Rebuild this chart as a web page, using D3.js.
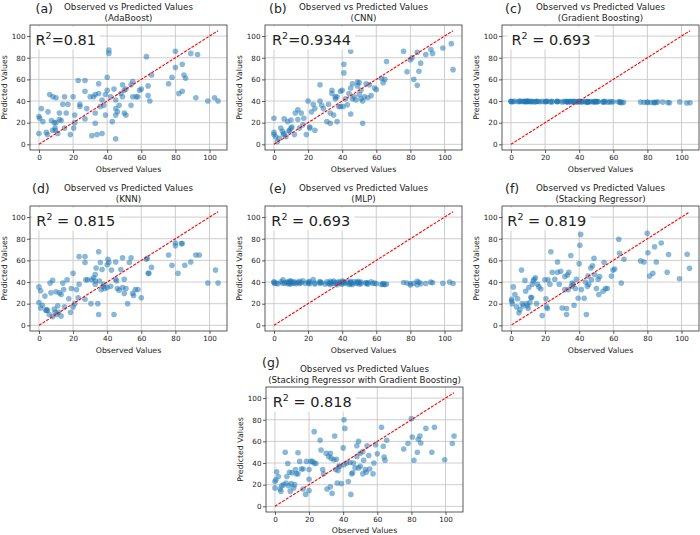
<!DOCTYPE html>
<html>
<head>
<meta charset="utf-8">
<script src="https://cdn.jsdelivr.net/npm/d3@7"></script>
<style>
body { margin: 0; background: #fff; }
text { font-family: "DejaVu Sans", sans-serif; fill: #222; }
</style>
</head>
<body>
<div id="viz-container"></div>
<script>

///////////////////////////////////////////////////////////////////////////
// DATA  [observed, predicted]

let adaBoostPts = [[0,25.7],[0.4,24],[0,10],[1.4,33],[2.3,21],[4.3,11],[5,9],[5.3,30],[6.3,46],[7.3,22],[8,13],[8.2,44],[9,20],[9.4,15],[9.6,13],[10,43],[10,20],[11,10],[12,29],[12,23],[13,22],[14,37],[15,44],[15,15],[16,29],[17,37],[18.4,9],[20,44],[20.4,15],[21,20],[21,27],[23,59],[24,37],[24,35],[27,59],[27,49],[27,23.5],[28,33],[30,44],[31,8],[32,44],[33,29],[33,19.5],[33,46],[34,9],[35,47],[35,56],[36,35],[37,41],[37,10],[38,36],[39,46],[39,27],[40,50],[40,62],[41,84],[41,87],[42,44],[43,21],[44,51],[45,5],[45,33],[45,27],[45,41],[46,30],[47,36],[48,47],[49,55],[49,44],[50,50],[50,29],[51,51],[51,27],[54,36],[54,55],[55,44],[55,58],[57,44],[58,44],[59,50],[60,51],[63,81],[64,54],[64,45],[65,40],[66,64],[76,56],[78,62],[80,86],[80,71],[82,47],[84,49],[84,74],[85,64],[86,61],[89,84],[92,43],[93,83],[99,40],[103,43],[105,40]];

let cnnPts = [[0,24],[0,11],[0,9],[1,7],[2,2.5],[3,5.5],[4,15],[5,12],[5.5,9],[6,10],[6,23.5],[7,7],[8,21],[9,13],[9,12],[10,22.5],[10,15],[10.5,16],[12,9],[12.5,29],[14,32],[14,23],[15,15],[16,29],[17,18],[17.5,24],[19,9],[20,40],[21,16],[21,15],[22,30],[23,37],[24,33],[24,13],[27,55],[27,40],[28,36],[29,33],[31,21],[32,37],[33,29],[33,19.5],[34,50],[34,47],[35,27],[36,44],[36,42],[37,44],[37,21],[38,35],[39,49],[39,35],[40,50],[40.5,35],[41,66],[41,74],[42,42],[43,36.5],[44,47],[45,86],[45,52],[45,28],[46,42],[46,56],[47,44],[48,41],[49,57.5],[49,54],[50,46],[50,57],[51,50],[51,42],[52,19.5],[52,40],[53,44],[54,56],[55,43],[56,55],[57,45],[59,52],[60,50.5],[63,61],[64,57],[65,60],[66,76.5],[76,86],[78,67],[80,78],[81,80],[82,60],[84,85],[84,54.5],[85,67.5],[86,75],[89,83],[92,87.5],[93,84],[99,89],[104,93],[105,69]];

// observed values used for the two nearly flat models
let sharedObs = [0,0.4,0,1.4,2.3,4.3,5,5.3,6.3,7.3,8,8.2,9,9.4,9.6,10,10,11,12,12,13,14,15,15,16,17,18.4,20,20.4,21,21,23,24,24,27,27,27,28,30,31,32,33,33,33,34,35,35,36,37,37,38,39,39,40,40,41,41,42,43,44,45,45,45,45,46,47,48,49,49,50,50,51,51,54,54,55,55,57,58,59,60,63,64,64,65,66,76,78,80,80,82,84,84,85,86,89,92,93,99,103,105];

let gbPred = [39.6,39.4,39.8,39.5,39.7,39.3,39.6,39.9,39.5,39.8,
  39.4,39.7,39.5,39.9,39.3,39.6,39.8,39.5,39.7,39.4,
  39.6,39.2,39.8,39.5,39.6,39.3,39.7,39.4,39.6,39.5,
  39.8,39.4,39.7,39.2,39.5,39.8,39.3,39.6,39.1,39.5,
  39.7,39.3,39.6,39.0,39.5,39.8,39.2,39.6,39.4,39.7,
  39.3,39.5,39.1,39.6,39.8,39.2,39.5,39.4,39.7,39.0,
  39.5,39.2,38.9,39.6,39.3,39.5,39.1,39.4,39.7,39.2,
  39.5,39.3,39.6,39.0,39.4,39.7,39.2,38.9,39.5,39.1,
  39.3,39.4,38.8,39.2,38.5,38.9,39.0,38.8,38.6,39.1,
  38.7,38.5,38.9,38.6,39.2,39.0,38.7,38.4,39.2,38.2,38.3];

let mlpPred = [39.5,38.6,40.2,39.1,38.4,40.5,39.0,42.0,38.8,39.6,
  40.3,38.5,39.2,40.8,38.1,39.7,41.0,38.9,39.4,40.1,
  38.3,39.8,40.6,38.7,39.3,41.2,38.6,40.0,39.1,38.4,
  40.4,42.2,39.0,38.2,39.7,40.5,38.8,39.3,37.9,40.1,
  38.6,39.4,40.7,37.6,38.9,39.8,40.9,38.3,39.5,37.5,
  40.2,38.7,39.6,40.8,38.1,39.3,40.4,38.6,39.9,37.8,
  39.1,40.5,38.4,39.7,37.7,40.1,38.9,39.4,40.6,38.2,
  39.8,38.5,40.0,38.8,39.5,37.9,39.2,40.3,38.6,39.0,
  38.4,37.8,38.5,38.0,37.6,38.2,39.6,39.1,38.3,37.2,
  38.9,40.7,37.4,39.8,38.5,38.7,39.9,39.3,38.8,40.0,38.6];

let knnPts = [[0,35.5],[1,32],[0,21],[1,16],[2,18.5],[3.5,27],[4,14],[4.5,14],[5,14],[6,10],[6.5,39],[7,30],[8,41.5],[8,8],[9,15],[9.5,12],[10,31],[10.5,10],[11,18],[11.5,12],[12,30],[13,8.5],[13,28.5],[14,39],[14.5,33],[15,17],[16.5,42],[17.5,24.5],[18.5,12],[19,34],[20,17],[20,48],[21,20],[22,33],[23,25.5],[23.5,38],[23.5,63.5],[27,58],[27,63.5],[27,24],[27.5,42],[28.5,42],[30.5,20],[31,42],[32,44],[33,38],[33,41],[33,47],[33.5,53],[34.5,20],[35,10],[35,68],[35.5,41],[36,58],[36.5,33],[37,51.5],[37.5,36],[38,38],[38.5,34],[40,56],[40,35],[40.5,61],[41,58],[42,36],[42.5,51],[44,10],[45,58.5],[45,42.5],[45.5,41],[46,34],[47,32.5],[48,51.5],[49,62.5],[49,35],[50,42.5],[50,29.5],[51,34],[52,20],[53,58],[54,62.5],[55,29.5],[55.5,27.5],[56.5,33],[58,33],[60,25.5],[63,61],[63.5,62],[64,48],[64.5,48],[66,53.5],[76,65],[78,55.5],[80,76],[80,73.5],[81.5,48],[83.5,75.5],[84,75.5],[85.5,55.5],[89,58.5],[92,65],[94,65],[99,39],[103.5,51],[105,39]];

let stackingPts = [[0.4,24],[0.4,22.5],[0.8,20],[1.4,35.5],[2.3,28.5],[3.3,17],[3.9,24.5],[4.7,11.5],[5.3,14.5],[6.2,51],[6.6,20],[7.2,18],[8.2,41.5],[8.6,31.5],[9.2,20],[9.7,18],[10.1,15.5],[10.5,35],[11.1,21],[11.7,26],[12.1,25.5],[12.5,38],[13.1,41],[13.6,42.5],[14.4,44],[15,20],[15.6,38],[16.4,35.5],[17.5,33.5],[18.3,9],[19.9,42],[20.5,24.5],[20.9,17],[21.4,15.5],[21.8,42],[22.8,38],[23.4,68],[24.2,49],[25.7,42.5],[27.3,58.5],[27.3,49],[28.3,38],[29.2,50],[30,16],[31.6,45],[31.6,33],[32.6,15.5],[32.6,10],[33.1,46.5],[33.5,33],[33.9,49],[35.1,64.5],[35.5,36],[35.9,39],[36.5,38],[37,18.5],[37.8,34],[38.4,42.5],[39.4,25],[40,57],[40.4,74],[40.9,84],[41.3,33],[42.9,25],[43.7,40],[44.2,10],[44.8,36],[45.2,45.5],[45.6,38],[46.8,53],[47.2,42],[47.8,55],[48.7,62],[49.1,47],[50.1,34],[51.1,42.5],[51.5,28.5],[52,45],[54,31.5],[54.6,58],[55.4,34],[56.5,34],[58.9,45.5],[59.8,51],[60.8,52],[63.2,79.5],[63.7,66.5],[64.7,39],[66.3,61],[76,59.5],[78,58.5],[79.9,85],[80.3,67],[81.3,45.5],[83.2,48],[84.2,72.5],[85.2,58.5],[88.1,76],[92.4,65.5],[91.6,49],[98.8,43],[103.3,65.6],[104.7,52.7]];

let stackingGbPts = [[0,23],[0,17],[0.5,24.5],[1,32],[2,27.5],[3,16],[3.5,14],[4,19],[5,20],[6,50],[6.5,21.5],[7,27.5],[7.5,39.5],[8,19],[8.5,31.5],[9,14],[9.5,21],[10,31],[11,17],[11.5,20],[12,34],[12.5,30],[13.5,49.5],[13.5,30],[14.5,41.5],[15.5,34.5],[16.5,34.5],[16.5,16],[18,11],[18.5,41.5],[20,34],[20,25],[20,14.5],[21,41.5],[22,41.5],[23,69],[23,40],[24,39.5],[26.5,61],[27,52],[28,34],[28.5,30],[30,49],[30.5,16],[31.5,46],[32.5,18],[32.5,49],[33,44.5],[33.5,12],[34.5,43],[35,65],[35.5,34],[36,43.5],[36.5,21.5],[37,33],[37.5,37],[38,37],[39,21],[40,54],[40.5,38.5],[40.5,80],[41,72],[42,40],[43,23],[44,40.5],[44.5,11],[45,30],[45.5,31],[46,40],[47,35.5],[48,56],[48,46],[49,60],[49,35.5],[50,49],[50,37],[51.5,30],[51.5,50.5],[52,42.5],[53,34],[53.5,31.5],[54,56],[55,47],[55.5,34.5],[57.5,30],[58,40],[59,57],[60,48.5],[62.5,73],[63.5,55.5],[64,45.5],[64.5,42.5],[65.5,61],[75.5,53],[78,58],[80,81],[80.5,64],[81.5,42.5],[83.5,50],[84,62],[85,65],[85.5,58.5],[88.5,72],[92,50],[93.5,73],[99.5,43],[104,58],[105,65]];

let axisTicks = [0, 20, 40, 60, 80, 100];

///////////////////////////////////////////////////////////////////////////
// SVG

let w = 700;
let h = 535;

let viz = d3.select("#viz-container")
  .append("svg")
    .attr("width", w)
    .attr("height", h)
    .style("background", "#fff");

let plotW = 197;
let plotH = 125;

function zip(obs, pred){
  return obs.map(function(o, i){ return [o, pred[i]]; });
}

let panels = [
  {tag: "(a)", model: "(AdaBoost)", r2: "=0.81", pts: adaBoostPts, left: 30, top: 25, tagDx: 5.5, tagDy: -17, r2Dx: 5.5, xlab: 19.5},
  {tag: "(b)", model: "(CNN)", r2: "=0.9344", pts: cnnPts, left: 265, top: 25, tagDx: 4, tagDy: -17, r2Dx: 7, xlab: 19.5},
  {tag: "(c)", model: "(Gradient Boosting)", r2: " = 0.693", pts: zip(sharedObs, gbPred), left: 502, top: 25, tagDx: 3, tagDy: -17, r2Dx: 9.5, xlab: 19.5},
  {tag: "(d)", model: "(KNN)", r2: " = 0.815", pts: knnPts, left: 30, top: 206, tagDx: 2, tagDy: -18, r2Dx: 6.3, xlab: 19.5},
  {tag: "(e)", model: "(MLP)", r2: " = 0.693", pts: zip(sharedObs, mlpPred), left: 265, top: 206, tagDx: 4, tagDy: -18, r2Dx: 6.3, xlab: 19.5},
  {tag: "(f)", model: "(Stacking Regressor)", r2: " = 0.819", pts: stackingPts, left: 502, top: 206, tagDx: 3, tagDy: -18, r2Dx: 5.3, xlab: 19.5},
  {tag: "(g)", model: "(Stacking Regressor with Gradient Boosting)", r2: " = 0.818", pts: stackingGbPts, left: 266, top: 387, tagDx: -4, tagDy: -25, r2Dx: 6.7, xlab: 18}
];

///////////////////////////////////////////////////////////////////////////
// one scatter panel

function drawPanel(p){
  let g = viz.append("g").attr("transform", "translate(" + p.left + "," + p.top + ")");

  let x = d3.scaleLinear().domain([-5.25, 110.25]).range([0, plotW]);
  let y = d3.scaleLinear().domain([-5.25, 110.25]).range([plotH, 0]);

  // grid
  g.selectAll(".vgrid").data(axisTicks).enter()
    .append("line")
      .attr("x1", d => x(d)).attr("x2", d => x(d))
      .attr("y1", 0).attr("y2", plotH)
      .attr("stroke", "#c8c8c8").attr("stroke-width", 0.9);
  g.selectAll(".hgrid").data(axisTicks).enter()
    .append("line")
      .attr("y1", d => y(d)).attr("y2", d => y(d))
      .attr("x1", 0).attr("x2", plotW)
      .attr("stroke", "#c8c8c8").attr("stroke-width", 0.9);

  // points
  g.selectAll("circle").data(p.pts).enter()
    .append("circle")
      .attr("cx", d => x(d[0]))
      .attr("cy", d => y(d[1]))
      .attr("r", 2.8)
      .attr("fill", "#1f77b4")
      .attr("fill-opacity", 0.52);

  // perfect prediction line
  let ext = d3.extent(p.pts, d => d[0]);
  g.append("line")
    .attr("x1", x(ext[0])).attr("y1", y(ext[0]))
    .attr("x2", x(ext[1])).attr("y2", y(ext[1]))
    .attr("stroke", "#ff0000")
    .attr("stroke-width", 1.1)
    .attr("stroke-dasharray", "3,1.3");

  // axes
  let xAxis = g.append("g").attr("transform", "translate(0," + plotH + ")")
    .call(d3.axisBottom(x).tickValues(axisTicks).tickSize(3).tickPadding(1.5));
  let yAxis = g.append("g")
    .call(d3.axisLeft(y).tickValues(axisTicks).tickSize(3).tickPadding(1.5));
  [xAxis, yAxis].forEach(function(a){
    a.select(".domain").remove();
    a.selectAll("line").attr("stroke", "#333").attr("stroke-width", 0.8);
    a.selectAll("text").style("font-family", "DejaVu Sans").style("font-size", "7.2px").attr("fill", "#222");
  });

  // frame
  g.append("rect")
    .attr("width", plotW).attr("height", plotH)
    .attr("fill", "none").attr("stroke", "#333").attr("stroke-width", 0.8);

  // axis labels
  g.append("text")
    .attr("x", plotW / 2).attr("y", plotH + p.xlab)
    .attr("text-anchor", "middle").attr("dominant-baseline", "central")
    .style("font-size", "7.8px")
    .text("Observed Values");
  g.append("text")
    .attr("transform", "translate(-25.5," + plotH / 2 + ") rotate(-90)")
    .attr("text-anchor", "middle").attr("dominant-baseline", "central")
    .style("font-size", "7.8px")
    .text("Predicted Values");

  // titles
  g.append("text")
    .attr("x", plotW / 2).attr("y", -15)
    .attr("text-anchor", "middle")
    .style("font-size", "8.7px")
    .text("Observed vs Predicted Values");
  g.append("text")
    .attr("x", plotW / 2).attr("y", -4)
    .attr("text-anchor", "middle")
    .style("font-size", "8.7px")
    .text(p.model);
  g.append("text")
    .attr("x", p.tagDx).attr("y", p.tagDy)
    .attr("dominant-baseline", "central")
    .style("font-size", "12.5px")
    .text(p.tag);

  // R2 box
  let box = g.append("rect").attr("fill", "#fff");
  let r2 = g.append("text")
    .attr("x", p.r2Dx).attr("y", 19.5)
    .style("font-size", "14.5px");
  r2.append("tspan").text("R");
  r2.append("tspan").attr("dy", -6).style("font-size", "9.5px").text("2");
  r2.append("tspan").attr("dy", 6).text(p.r2);
  let bb = r2.node().getBBox();
  box.attr("x", bb.x - 4).attr("y", Math.max(0.5, bb.y - 3))
     .attr("width", bb.width + 8).attr("height", bb.height + 5);
}

panels.forEach(drawPanel);

</script>
</body>
</html>
